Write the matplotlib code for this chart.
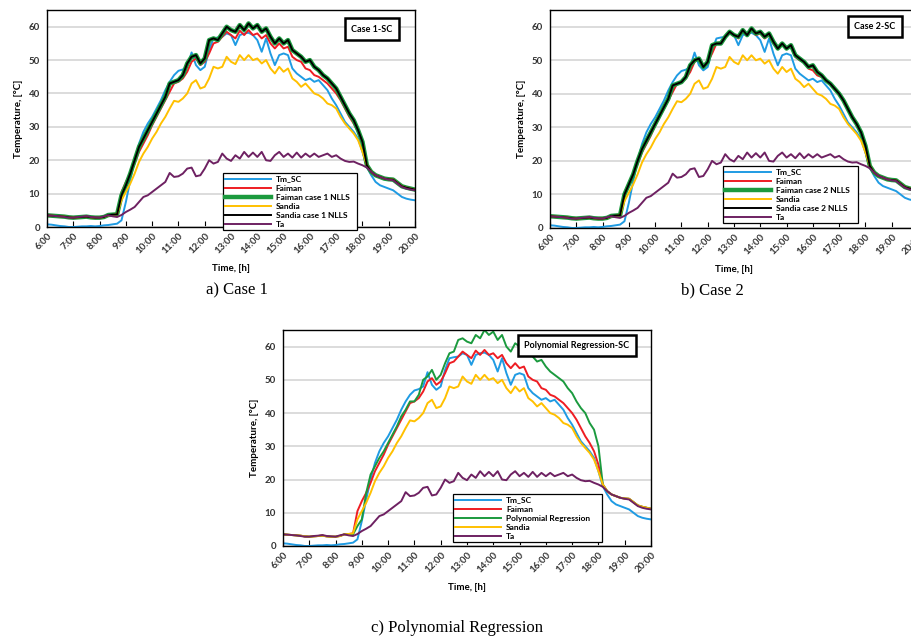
import numpy as np
import matplotlib
matplotlib.use('Agg')
import matplotlib.pyplot as plt

plt.rcParams['font.family'] = ['Lato', 'DejaVu Sans']

# time grid, 10 min steps from 6:00 to 20:00
hours = np.arange(85) / 6.0 + 6.0
hour_ticks = list(range(6, 21))
hour_labels = ['%d:00' % h for h in hour_ticks]

ta = [3.5, 3.4, 3.3, 3.2, 3.0, 2.8, 2.8, 3.0, 3.1, 3.3,
      3.0, 2.9, 2.8, 3.2, 3.5, 3.2, 3.0, 3.6, 4.5, 5.2,
      6.0, 7.5, 9.0, 9.5, 10.5, 11.5, 12.5, 13.5, 16.2, 15.0,
      15.2, 16.0, 17.5, 17.8, 15.2, 15.5, 17.5, 20.0, 19.0, 19.5,
      22.0, 20.5, 19.8, 21.5, 20.5, 22.5, 21.0, 22.3, 21.0, 22.5,
      20.0, 19.8, 21.5, 22.5, 21.0, 22.0, 20.8, 22.3, 20.8, 22.0,
      21.0, 22.0, 21.0, 21.5, 22.0, 21.0, 21.5, 20.5, 19.8, 19.5,
      19.6, 19.0, 18.5, 17.8, 16.5, 15.5, 15.0, 14.5, 14.2, 14.0,
      13.0, 12.0, 11.5, 11.2, 11.0]

tm_sc = [0.8, 0.7, 0.5, 0.3, 0.2, 0.0, 0.0, 0.1, 0.2, 0.2,
         0.3, 0.2, 0.3, 0.5, 0.6, 0.8, 1.0, 2.0, 7.5, 14.0,
         20.0, 25.0, 28.5, 31.0, 33.0, 35.5, 38.0, 41.0, 43.5, 45.5,
         46.8, 47.2, 48.0, 52.3, 48.5, 47.0, 48.0, 53.0, 56.5, 56.8,
         57.0, 58.0, 57.5, 54.5, 57.5, 58.0, 58.2, 57.5, 56.0, 52.5,
         56.5, 52.0, 48.5, 51.5, 52.0, 51.5, 47.5, 46.0, 45.0, 44.0,
         44.5, 43.5, 44.0, 42.5, 41.0, 38.5, 36.5, 34.0, 31.5, 30.0,
         28.5, 26.5, 22.5, 18.0, 15.5, 13.5, 12.5, 12.0, 11.5, 11.0,
         10.0, 9.0, 8.5, 8.2, 8.0]

faiman = [3.5, 3.4, 3.3, 3.2, 3.1, 2.9, 2.8, 2.9, 3.0, 3.1,
          2.9, 2.8, 2.8, 3.0, 3.5, 3.6, 3.8, 10.5, 13.5, 16.0,
          19.0, 22.5, 25.0, 27.5, 30.5, 33.0, 35.5, 38.0, 40.5, 43.0,
          43.5, 44.5, 46.5, 49.5, 50.5, 48.5, 49.5, 52.0, 55.0, 55.5,
          57.0, 58.5, 57.5, 56.5, 58.8, 57.5, 59.0, 57.5, 58.0, 56.5,
          57.5, 55.0, 53.5, 55.0, 53.5, 54.0, 51.0, 50.0, 49.5, 47.5,
          47.0, 45.5, 45.0, 44.0, 43.0, 41.5, 40.0, 38.0, 35.5, 33.0,
          31.0, 28.5, 24.5, 18.5, 16.5, 15.5, 15.0, 14.5, 14.3, 14.2,
          13.2, 12.2, 11.8, 11.5, 11.2]

sandia = [3.5, 3.4, 3.3, 3.2, 3.1, 2.9, 2.8, 2.9, 3.0, 3.1,
          2.9, 2.8, 2.8, 3.0, 3.5, 3.6, 3.8, 8.0, 10.5, 13.0,
          16.0, 19.5, 22.0, 24.0, 26.5, 28.5, 31.0, 33.0, 35.5, 37.8,
          37.5, 38.5, 40.0, 43.0, 44.0, 41.5, 42.0, 44.5, 48.0, 47.5,
          48.0, 51.0, 49.5, 48.8, 51.5, 50.0, 51.5, 50.0, 50.5, 49.0,
          50.0, 47.5, 46.0, 48.0, 46.5, 47.5, 44.5, 43.5, 42.0, 43.0,
          41.5, 40.0, 39.5, 38.5, 37.0, 36.5, 35.5, 33.0, 31.0, 29.5,
          28.0, 26.0, 22.5, 18.5, 16.5, 15.5, 15.0, 14.5, 14.3, 14.2,
          13.2, 12.2, 11.8, 11.5, 11.2]

poly_reg = [3.5, 3.4, 3.3, 3.2, 3.1, 2.9, 2.8, 2.9, 3.0, 3.1,
            2.9, 2.8, 2.8, 3.0, 3.5, 3.6, 3.5, 6.0, 8.0, 16.0,
            21.5, 24.0, 26.5, 28.5, 31.0, 33.5, 36.0, 39.0, 41.0, 43.5,
            43.5, 45.5, 50.0, 51.0, 53.0, 50.0, 51.5, 55.0, 58.0, 58.5,
            62.0, 62.5, 61.5, 61.0, 63.5, 62.5, 65.0, 63.5, 64.5, 62.0,
            63.5, 60.0, 58.5, 61.0, 60.0, 60.5, 58.0, 57.0, 55.5, 56.0,
            54.0, 52.5, 51.5, 50.5, 49.5, 47.5, 46.0, 43.5, 41.5, 40.0,
            37.0, 35.0, 30.0, 18.5, 16.5, 15.5, 15.0, 14.5, 14.3, 14.2,
            13.2, 12.2, 11.8, 11.5, 11.2]

faiman_c1 = [3.5, 3.4, 3.3, 3.2, 3.1, 2.9, 2.8, 2.9, 3.0, 3.1,
             2.9, 2.8, 2.8, 3.0, 3.6, 3.7, 3.8, 9.5, 12.5, 16.0,
             20.0, 24.0, 26.5, 29.0, 31.5, 34.0, 36.5, 39.0, 43.0, 43.5,
             44.0, 45.5, 49.0, 51.0, 51.5, 49.0, 50.5, 56.0, 56.5, 56.0,
             58.0, 60.0, 59.0, 58.5, 60.5, 59.0, 61.0, 59.5, 60.5, 58.5,
             59.5, 57.0, 55.0, 56.5, 55.0, 56.0, 53.0, 52.0, 51.0, 49.5,
             50.0, 48.0, 47.0, 45.5, 44.5, 43.0, 41.5, 39.0, 36.5, 34.0,
             32.0, 29.0, 25.5, 18.5, 16.5, 15.5, 15.0, 14.5, 14.3, 14.2,
             13.2, 12.2, 11.8, 11.5, 11.2]
sandia_c1 = faiman_c1  # both fits lie on top of each other

faiman_c2 = [3.5, 3.4, 3.3, 3.2, 3.1, 2.9, 2.8, 2.9, 3.0, 3.1,
             2.9, 2.8, 2.8, 3.0, 3.6, 3.7, 3.8, 10.0, 13.0, 16.0,
             20.0, 23.5, 26.0, 28.5, 31.0, 33.5, 36.0, 38.5, 42.5, 43.0,
             43.5, 45.0, 48.5, 50.0, 50.5, 48.0, 49.5, 54.5, 55.0, 55.0,
             57.0, 58.5, 57.5, 57.0, 59.0, 57.5, 59.5, 58.0, 58.5, 57.0,
             58.0, 55.5, 53.5, 55.0, 53.5, 54.5, 51.5, 50.5, 49.5, 48.0,
             48.5, 46.5, 45.5, 44.0, 43.0, 41.5, 40.0, 38.0, 35.5, 33.0,
             31.0, 28.5, 24.5, 18.5, 16.5, 15.5, 15.0, 14.5, 14.3, 14.2,
             13.2, 12.2, 11.8, 11.5, 11.2]
sandia_c2 = faiman_c2

BLUE = '#1f9be3'
RED = '#ee1d23'
GREEN = '#1b9a3e'
ORANGE = '#ffc000'
PURPLE = '#6e2162'


def setup(ax, tag, tag_xy, leg_box):
    ax.set_xlim(6, 20)
    ax.set_ylim(0, 65)
    ax.set_yticks(range(0, 61, 10))
    ax.set_xticks(hour_ticks)
    ax.set_xticklabels(hour_labels, rotation=45, ha='right', rotation_mode='anchor')
    ax.tick_params(axis='x', direction='in', length=4, labelsize=7, pad=3)
    ax.tick_params(axis='y', length=0, labelsize=7, pad=5)
    for lab in ax.get_xticklabels() + ax.get_yticklabels():
        lab.set_fontweight('bold')
        lab.set_color('#333333')
    ax.yaxis.grid(True, color='#d9d9d9', lw=1.3)
    ax.set_axisbelow(True)
    for s in ax.spines.values():
        s.set_linewidth(1.0)
    ax.set_ylabel('Temperature, [°C]', fontsize=7, fontweight='bold', labelpad=4)
    ax.set_xlabel('Time, [h]', fontsize=7, fontweight='bold', labelpad=6)
    ax.text(tag_xy[0], tag_xy[1], tag, transform=ax.transAxes, ha='center', va='center',
            fontsize=6.5, fontweight='bold',
            bbox=dict(boxstyle='square,pad=0.7', fc='white', ec='black', lw=1.8))
    leg = ax.legend(loc='lower left', bbox_to_anchor=leg_box, mode='expand',
                    borderaxespad=0, fontsize=6, handlelength=5.5, handletextpad=0.6,
                    labelspacing=0.25, borderpad=0.25, fancybox=False, framealpha=1,
                    edgecolor='black', prop={'weight': 'bold', 'size': 6})
    leg.get_frame().set_linewidth(0.9)
    leg.set_zorder(5)


fig = plt.figure(figsize=(9.11, 6.4), dpi=100)

# a) Case 1
ax1 = fig.add_axes([0.0516, 0.6453, 0.404, 0.339])
ax1.plot(hours, tm_sc, color=BLUE, lw=1.4, label='Tm_SC')
ax1.plot(hours, faiman, color=RED, lw=1.4, label='Faiman')
ax1.plot(hours, faiman_c1, color=GREEN, lw=3.2, label='Faiman case 1 NLLS')
ax1.plot(hours, sandia, color=ORANGE, lw=1.4, label='Sandia')
ax1.plot(hours, sandia_c1, color='black', lw=1.4, label='Sandia case 1 NLLS')
ax1.plot(hours, ta, color=PURPLE, lw=1.4, label='Ta')
setup(ax1, 'Case 1-SC', (0.883, 0.912), (0.478, -0.014, 0.364, 0.258))

# b) Case 2
ax2 = fig.add_axes([0.6037, 0.6438, 0.404, 0.3406])
ax2.plot(hours, tm_sc, color=BLUE, lw=1.4, label='Tm_SC')
ax2.plot(hours, faiman, color=RED, lw=1.4, label='Faiman')
ax2.plot(hours, faiman_c2, color=GREEN, lw=3.2, label='Faiman case 2 NLLS')
ax2.plot(hours, sandia, color=ORANGE, lw=1.4, label='Sandia')
ax2.plot(hours, sandia_c2, color='black', lw=1.4, label='Sandia case 2 NLLS')
ax2.plot(hours, ta, color=PURPLE, lw=1.4, label='Ta')
setup(ax2, 'Case 2-SC', (0.883, 0.924), (0.470, 0.023, 0.367, 0.252))

# c) Polynomial regression
ax3 = fig.add_axes([0.3106, 0.1469, 0.404, 0.3375])
ax3.plot(hours, tm_sc, color=BLUE, lw=1.4, label='Tm_SC')
ax3.plot(hours, faiman, color=RED, lw=1.4, label='Faiman')
ax3.plot(hours, poly_reg, color=GREEN, lw=1.4, label='Polynomial Regression')
ax3.plot(hours, sandia, color=ORANGE, lw=1.4, label='Sandia')
ax3.plot(hours, ta, color=PURPLE, lw=1.4, label='Ta')
setup(ax3, 'Polynomial Regression-SC', (0.799, 0.928), (0.462, 0.0185, 0.405, 0.25))

fig.text(0.260, 0.547, 'a) Case 1', ha='center', va='center', fontsize=12,
         family='Liberation Serif')
fig.text(0.782, 0.547, 'b) Case 2', ha='center', va='center', fontsize=12,
         family='Liberation Serif')
fig.text(0.502, 0.019, 'c) Polynomial Regression', ha='center', va='center', fontsize=12,
         family='Liberation Serif')

fig.savefig('out.png', dpi=100)
